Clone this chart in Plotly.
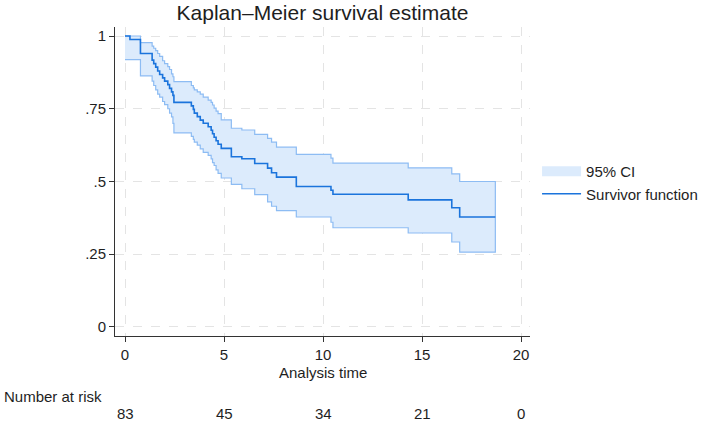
import numpy as np
import plotly.graph_objects as go

# ---- data ----
surv_t = [0, 0.25, 0.78, 1.37, 1.45, 1.55, 1.65, 1.75, 1.9, 2.0, 2.16, 2.25, 2.35, 2.42, 2.47,
          3.35, 3.45, 3.5, 3.65, 3.8, 3.95, 4.2, 4.35, 4.42, 4.5, 4.6, 4.7, 4.86, 5.37, 5.9,
          6.55, 7.2, 7.4, 7.65, 8.65, 10.4, 10.5, 14.3, 16.5, 16.9]
surv_s = [1.0, 0.988, 0.94, 0.917, 0.905, 0.893, 0.88, 0.868, 0.856, 0.845, 0.833, 0.82,
          0.808, 0.796, 0.772, 0.76, 0.748, 0.735, 0.723, 0.711, 0.70, 0.688, 0.676, 0.664,
          0.652, 0.64, 0.628, 0.614, 0.585, 0.578, 0.562, 0.546, 0.53, 0.515, 0.483, 0.47,
          0.456, 0.437, 0.41, 0.378]
ci_upper = [1.0, 1.0, 0.977, 0.965, 0.958, 0.95, 0.94, 0.93, 0.915, 0.905, 0.895, 0.885,
            0.87, 0.86, 0.843, 0.83, 0.822, 0.815, 0.808, 0.80, 0.79, 0.78, 0.772, 0.763,
            0.752, 0.742, 0.733, 0.712, 0.683, 0.677, 0.662, 0.648, 0.635, 0.618, 0.593,
            0.58, 0.563, 0.547, 0.526, 0.50]
ci_lower = [0.919, 0.919, 0.863, 0.845, 0.83, 0.815, 0.80, 0.79, 0.775, 0.764, 0.75, 0.735,
            0.722, 0.70, 0.667, 0.655, 0.645, 0.635, 0.625, 0.612, 0.60, 0.59, 0.578, 0.565,
            0.555, 0.54, 0.528, 0.512, 0.49, 0.475, 0.455, 0.43, 0.415, 0.40, 0.378, 0.36,
            0.341, 0.323, 0.292, 0.257]
t_end = 18.7

risk_times = [0, 5, 10, 15, 20]
risk_counts = [83, 45, 34, 21, 0]

x_ticks = [0, 5, 10, 15, 20]
y_ticks = [0, 0.25, 0.5, 0.75, 1]
y_ticklabels = ["0", ".25", ".5", ".75", "1"]


def step_path(times, values, end):
    xs, ys = [], []
    for i, (t, v) in enumerate(zip(times, values)):
        nxt = times[i + 1] if i + 1 < len(times) else end
        xs += [t, nxt]
        ys += [v, v]
    return xs, ys


ux, uy = step_path(surv_t, ci_upper, t_end)
lx, ly = step_path(surv_t, ci_lower, t_end)
sx, sy = step_path(surv_t, surv_s, t_end)

font = "Liberation Sans, Arial, sans-serif"
txt = "#1e1e1e"
blue = "#1b74dc"
band = "#dcebfc"

fig = go.Figure()
fig.add_trace(go.Scatter(
    x=ux + lx[::-1], y=uy + ly[::-1], fill="toself", mode="lines",
    fillcolor=band, line=dict(color="#8dbcf3", width=1.2),
    name="95% CI", hoverinfo="skip", showlegend=False))
# legend entry for the band (wide swatch)
fig.add_trace(go.Scatter(
    x=[None], y=[None], mode="lines", line=dict(color=band, width=15),
    name="95% CI", hoverinfo="skip"))
fig.add_trace(go.Scatter(
    x=sx, y=sy, mode="lines", line=dict(color=blue, width=1.6),
    name="Survivor function"))

for t, n in zip(risk_times, risk_counts):
    fig.add_annotation(x=t, xref="x", y=-0.252, yref="paper", text=str(n),
                       showarrow=False, font=dict(size=15, color=txt),
                       xanchor="center", yanchor="middle")
fig.add_annotation(x=-0.272, xref="paper", y=-0.197, yref="paper", text="Number at risk",
                   showarrow=False, font=dict(size=15, color=txt),
                   xanchor="left", yanchor="middle")
fig.add_annotation(x=10, xref="x", y=-0.117, yref="paper", text="Analysis time",
                   showarrow=False, font=dict(size=15, color=txt),
                   xanchor="center", yanchor="middle")

fig.update_layout(
    width=709, height=426,
    margin=dict(l=115, r=179, t=27, b=90, autoexpand=False),
    paper_bgcolor="white", plot_bgcolor="white",
    font=dict(family=font, size=15, color=txt),
    title=dict(text="Kaplan–Meier survival estimate", x=0.5, xref="paper",
               xanchor="center", y=1 - 13 / 426, yref="container", yanchor="middle",
               font=dict(size=21, color=txt)),
    legend=dict(x=1.017, xanchor="left", y=0.586, yanchor="top",
                font=dict(size=15, color=txt), bgcolor="rgba(0,0,0,0)",
                itemwidth=39, tracegroupgap=0),
    showlegend=True,
)
fig.update_xaxes(range=[-0.505, 20.45], tickvals=x_ticks, ticks="outside", ticklen=5,
                 tickcolor="#333", showline=True, linecolor="#333", linewidth=1,
                 showgrid=True, gridcolor="#e4e4e4", griddash="dash", gridwidth=1,
                 zeroline=False, tickfont=dict(size=15, color=txt))
fig.update_yaxes(range=[-0.031, 1.031], tickvals=y_ticks, ticktext=y_ticklabels,
                 ticks="outside", ticklen=5, tickcolor="#333", showline=True,
                 linecolor="#333", linewidth=1, showgrid=True, gridcolor="#e4e4e4",
                 griddash="dash", gridwidth=1, zeroline=False,
                 tickfont=dict(size=15, color=txt))

fig.write_html("out.html")
